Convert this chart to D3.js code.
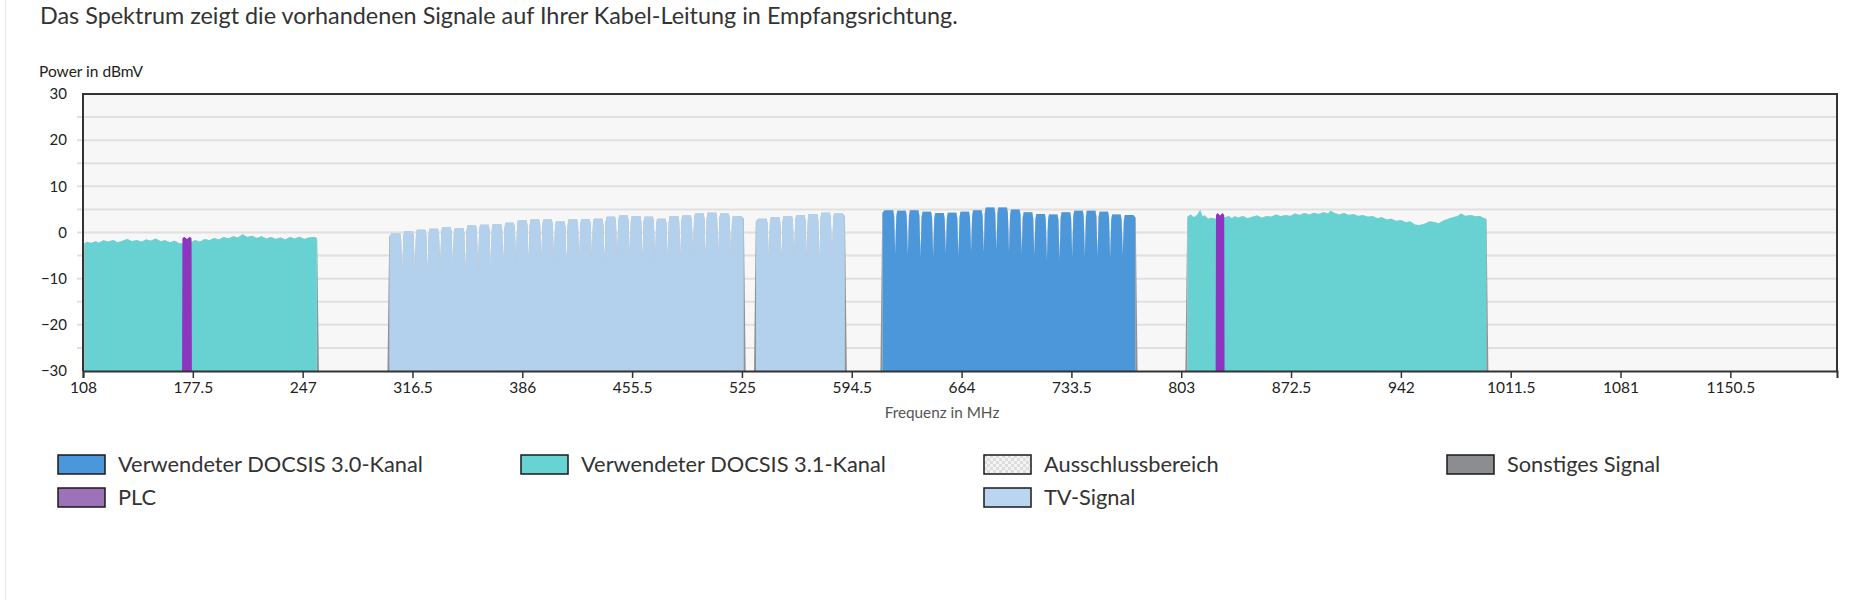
<!doctype html>
<html lang="de">
<head>
  <meta charset="utf-8">
  <title>Spektrum Empfangsrichtung</title>
  <script src="https://d3js.org/d3.v7.min.js"></script>
  <style>
    body { margin: 0; background: #fff; }
    text { font-family: Lato, "Open Sans", sans-serif; }
  </style>
</head>
<body>
  <div id="my_chart"></div>
<script>
  // axis ticks
  var x_ticks = [108, 177.5, 247, 316.5, 386, 455.5, 525, 594.5, 664, 733.5, 803, 872.5, 942, 1011.5, 1081, 1150.5];
  var y_ticks = [30, 20, 10, 0, -10, -20, -30];

  // TV signal channels (8 MHz): start frequency, top level, notch level to next channel
  var tv_start = [302, 310, 318, 326, 334, 342, 350, 358, 366, 374, 382, 390, 398, 406, 414, 422, 430, 438, 446, 454,
                  462, 470, 478, 486, 494, 502, 510, 518, 534, 542, 550, 558, 566, 574, 582];
  var tv_level = [-0.2, 0.3, 0.6, 0.8, 1.2, 1.0, 1.5, 1.7, 1.8, 2.1, 2.7, 2.8, 2.8, 2.4, 2.8, 2.9, 3.0, 3.4, 3.7, 3.6,
                  3.4, 3.0, 3.6, 3.7, 4.1, 4.3, 4.1, 3.6, 3.0, 3.3, 3.6, 3.8, 4.0, 4.3, 4.1];
  var tv_notch = [-10, -9.2, -8.8, -8.5, -8.2, -8.9, -9.2, -8.5, -7.5, -6.7, -6.7, -6.7, -7.0, -7.5, -7.0, -6.3, -6.7, -6.3, -6.0, -6.3,
                  -6.7, -6.3, -6.0, -5.0, -5.6, -6.0, -6.0, null, -6.7, -6.3, -6.3, -6.0, -6.7, -6.3, null];

  // DOCSIS 3.0 channels (8 MHz)
  var d30_start = [614, 622, 630, 638, 646, 654, 662, 670, 678, 686, 694, 702, 710, 718, 726, 734, 742, 750, 758, 766];
  var d30_level = [4.8, 4.7, 4.8, 4.5, 4.2, 4.3, 4.5, 4.8, 5.4, 5.4, 5.0, 4.4, 4.0, 3.9, 4.4, 4.7, 4.7, 4.5, 3.9, 3.8];
  var d30_notch = [-4.5, -4.9, -5.2, -5.2, -4.5, -5.2, -4.2, -4.2, -3.8, -4.2, -4.5, -4.9, -6.0, -6.0, -5.2, -5.2, -5.2, -5.6, -4.9, null];

  // DOCSIS 3.1 OFDM block 1 (108-256 MHz)
  var ofdm1_freq  = [109, 111, 113, 116, 118, 121, 124, 127, 130, 133, 136, 139, 142, 145, 148, 151, 154, 157, 160, 163,
                     166, 169, 171, 177, 179, 182, 185, 188, 191, 194, 197, 200, 203, 206, 209, 212, 215, 218, 221, 224,
                     227, 230, 233, 236, 239, 242, 245, 248, 251, 254, 256];
  var ofdm1_level = [-2.3, -2.0, -2.3, -1.9, -2.2, -1.7, -2.0, -1.6, -2.1, -1.8, -1.4, -1.9, -1.6, -2.0, -1.5, -1.8, -1.3, -1.9, -1.7, -2.1,
                     -1.8, -2.4, -2.3, -2.0, -1.6, -2.0, -1.4, -1.7, -1.2, -1.5, -1.0, -1.3, -0.8, -1.1, -0.4, -1.0, -0.7, -1.2, -0.8, -1.3,
                     -1.0, -1.4, -1.1, -1.5, -1.0, -1.3, -0.9, -1.4, -1.1, -1.0, -1.2];

  // DOCSIS 3.1 OFDM block 2 (807-996 MHz)
  var ofdm2_freq  = [807, 809, 811, 813, 815, 816.5, 818, 820, 822, 824.5, 831, 833, 835, 837, 839, 842, 845, 848, 851, 854,
                     857, 860, 863, 866, 869, 872, 875, 878, 881, 884, 887, 890, 893, 896, 897.5, 900, 903, 906, 909, 912,
                     915, 918, 921, 924, 927, 930, 933, 936, 939, 942, 945, 948, 951, 954, 957, 960, 963, 966, 969, 972,
                     975, 978, 980, 983, 986, 989, 992, 994, 996];
  var ofdm2_level = [3.4, 3.9, 3.3, 3.8, 4.9, 3.5, 3.7, 3.0, 3.2, 3.0, 3.3, 3.6, 3.1, 3.5, 3.2, 3.6, 3.1, 3.4, 3.7, 3.2,
                     3.6, 3.4, 3.9, 3.5, 3.8, 3.6, 4.1, 3.8, 4.2, 3.9, 4.3, 4.0, 4.4, 4.1, 4.7, 4.2, 3.9, 4.2, 3.8, 4.0,
                     3.6, 3.8, 3.4, 3.6, 3.1, 3.3, 2.8, 3.0, 2.5, 2.7, 2.2, 2.4, 1.7, 1.6, 1.9, 2.4, 2.3, 2.0, 2.6, 3.0,
                     3.3, 3.6, 4.1, 3.6, 3.8, 3.5, 3.6, 3.2, 3.0];

  // PLC carriers
  var plc_start = [170.6, 824.7];
  var plc_end   = [177.0, 830.5];
  var plc_level = [-0.9, 4.2];

  // legend
  var legend_labels = ['Verwendeter DOCSIS 3.0-Kanal', 'Verwendeter DOCSIS 3.1-Kanal', 'Ausschlussbereich', 'Sonstiges Signal', 'PLC', 'TV-Signal'];
  var legend_cols = [0, 1, 2, 3, 0, 2];
  var legend_rows = [0, 0, 0, 0, 1, 1];
  var legend_fill = ['#4a97db', '#68d3d3', 'url(#checker)', '#8b8d90', '#9d72b8', '#b9d5f0'];

  var width = 1872;
  var height = 600;
  var plot = {left: 83, right: 1837, top: 94, bottom: 371};

  var x = d3.scaleLinear().domain([108, 1218]).range([plot.left, plot.right]);
  var y = d3.scaleLinear().domain([-30, 30]).range([plot.bottom, plot.top]);

  var svg = d3.select('#my_chart').append('svg')
    .attr('width', width)
    .attr('height', height);

  var defs = svg.append('defs');
  defs.append('clipPath').attr('id', 'plot_clip')
    .append('rect')
      .attr('x', plot.left).attr('y', plot.top)
      .attr('width', plot.right - plot.left).attr('height', plot.bottom - plot.top);
  var checker = defs.append('pattern').attr('id', 'checker')
    .attr('width', 6).attr('height', 6).attr('patternUnits', 'userSpaceOnUse');
  checker.append('rect').attr('width', 6).attr('height', 6).attr('fill', '#f4f4f4');
  checker.append('rect').attr('width', 3).attr('height', 3).attr('fill', '#dcdcdc');
  checker.append('rect').attr('x', 3).attr('y', 3).attr('width', 3).attr('height', 3).attr('fill', '#dcdcdc');

  // page panel border
  svg.append('line')
    .attr('x1', 5.5).attr('x2', 5.5).attr('y1', 0).attr('y2', height)
    .attr('stroke', '#e6e6e6');

  svg.append('text')
    .attr('x', 40).attr('y', 23.5)
    .attr('fill', '#333')
    .style('font-size', '23.4px')
    .text('Das Spektrum zeigt die vorhandenen Signale auf Ihrer Kabel-Leitung in Empfangsrichtung.');

  svg.append('text')
    .attr('x', 39).attr('y', 77)
    .attr('fill', '#222')
    .style('font-size', '15.5px')
    .text('Power in dBmV');

  // plot background and grid
  svg.append('rect')
    .attr('x', plot.left).attr('y', plot.top)
    .attr('width', plot.right - plot.left).attr('height', plot.bottom - plot.top)
    .attr('fill', '#f7f7f7');

  svg.append('g').selectAll('line')
    .data(y.ticks(12).filter(d => d > -30 && d < 30))
    .enter().append('line')
      .attr('x1', plot.left - 6).attr('x2', plot.right)
      .attr('y1', d => y(d)).attr('y2', d => y(d))
      .attr('stroke', '#e0e0e0')
      .attr('stroke-width', 2);

  // spectrum
  var area = d3.area()
    .x(d => x(d[0]))
    .y0(y(-45))
    .y1(d => y(d[1]));

  function channel_points(starts, levels, notches) {
    var pts = [];
    starts.forEach(function(s, i) {
      var e = s + 8;
      var L = levels[i];
      var joined_left = i > 0 && notches[i - 1] != null;
      if (joined_left) {
        pts.push([s, notches[i - 1]]);
        pts.push([s + 0.7, L - 1.2]);
      } else {
        pts.push([s - 1.8, -42]);
        pts.push([s - 0.2, L - 0.6]);
      }
      pts.push([s + 1.3, L]);
      pts.push([e - 1.3, L]);
      if (notches[i] != null) {
        pts.push([e - 0.7, L - 1.2]);
      } else {
        pts.push([e + 0.2, L - 0.6]);
        pts.push([e + 1.8, -42]);
      }
    });
    return pts;
  }

  function block_points(freqs, levels) {
    var pts = freqs.map((f, i) => [f, levels[i]]);
    var n = freqs.length - 1;
    pts.unshift([freqs[0] - 0.2, levels[0] - 0.5]);
    pts.unshift([freqs[0] - 1.8, -42]);
    pts.push([freqs[n] + 0.2, levels[n] - 0.5]);
    pts.push([freqs[n] + 1.8, -42]);
    return pts;
  }

  // frequency ranges that carry a colour, everything else is "Sonstiges Signal"
  var spectrum = [
    {pts: block_points(ofdm1_freq, ofdm1_level), from: ofdm1_freq[0], to: ofdm1_freq[ofdm1_freq.length - 1], fill: '#68d2d2', opacity: 1},
    {pts: channel_points(tv_start.slice(0, 28), tv_level.slice(0, 28), tv_notch.slice(0, 28)), from: 302, to: 526, fill: 'rgb(111,171,225)', opacity: 0.5},
    {pts: channel_points(tv_start.slice(28), tv_level.slice(28), tv_notch.slice(28)), from: 534, to: 590, fill: 'rgb(111,171,225)', opacity: 0.5},
    {pts: channel_points(d30_start, d30_level, d30_notch), from: 614, to: 774, fill: 'rgb(56,140,214)', opacity: 0.9},
    {pts: block_points(ofdm2_freq, ofdm2_level), from: ofdm2_freq[0], to: ofdm2_freq[ofdm2_freq.length - 1], fill: '#68d2d2', opacity: 1}
  ];

  var spec_g = svg.append('g').attr('clip-path', 'url(#plot_clip)');

  spectrum.forEach(function(b, i) {
    spec_g.append('path')
      .attr('d', area(b.pts))
      .attr('fill', '#909296');
    defs.append('clipPath').attr('id', 'band_' + i)
      .append('rect')
        .attr('x', x(b.from)).attr('y', 0)
        .attr('width', x(b.to) - x(b.from)).attr('height', height);
    spec_g.append('g').attr('clip-path', 'url(#band_' + i + ')')
      .append('path')
        .attr('d', area(b.pts))
        .attr('fill', '#f7f7f7');
    spec_g.append('g').attr('clip-path', 'url(#band_' + i + ')')
      .append('path')
        .attr('d', area(b.pts))
        .attr('fill', b.fill)
        .attr('fill-opacity', b.opacity);
  });

  // PLC carriers
  spec_g.selectAll('.plc')
    .data(plc_start)
    .enter().append('path')
      .attr('class', 'plc')
      .attr('fill', '#8e35bf')
      .attr('d', (s, i) => area([
        [s, -42], [s + 0.3, plc_level[i] - 0.4], [s + 1.4, plc_level[i]],
        [(s + plc_end[i]) / 2, plc_level[i] - 0.5],
        [plc_end[i] - 1.4, plc_level[i]], [plc_end[i] - 0.3, plc_level[i] - 0.4], [plc_end[i], -42]
      ]));

  // frame
  svg.append('path')
    .attr('d', 'M' + plot.left + ',' + plot.bottom + 'V' + plot.top + 'H' + plot.right + 'V' + plot.bottom)
    .attr('fill', 'none')
    .attr('stroke', '#333')
    .attr('stroke-width', 2);

  // axes
  var x_axis = svg.append('g')
    .attr('transform', 'translate(0,' + plot.bottom + ')')
    .call(d3.axisBottom(x).tickValues(x_ticks).tickFormat(d => String(d)).tickSize(7).tickPadding(4));
  x_axis.select('.domain').attr('stroke', '#333').attr('stroke-width', 2);
  x_axis.selectAll('.tick line').attr('stroke', '#333').attr('stroke-width', 1.5);
  x_axis.selectAll('text').attr('fill', '#222').style('font-size', '15.5px').style('font-family', 'Lato, sans-serif');

  var y_axis = svg.append('g')
    .attr('transform', 'translate(' + plot.left + ',0)')
    .call(d3.axisLeft(y).tickValues(y_ticks).tickSize(0).tickPadding(16));
  y_axis.select('.domain').remove();
  y_axis.selectAll('text').attr('fill', '#222').style('font-size', '15px').style('font-family', 'Lato, sans-serif');

  svg.append('text')
    .attr('x', 942).attr('y', 418)
    .attr('text-anchor', 'middle')
    .attr('fill', '#555')
    .style('font-size', '15.3px')
    .text('Frequenz in MHz');

  // legend
  var legend = svg.append('g').selectAll('g')
    .data(legend_labels)
    .enter().append('g')
      .attr('transform', (d, i) => 'translate(' + (58 + legend_cols[i] * 463) + ',' + (455 + legend_rows[i] * 33) + ')');
  legend.append('rect')
    .attr('width', 47).attr('height', 19)
    .attr('fill', (d, i) => legend_fill[i])
    .attr('stroke', '#1a1a1a')
    .attr('stroke-width', 1.5);
  legend.append('text')
    .attr('x', 60).attr('y', 17)
    .attr('fill', '#333')
    .style('font-size', '21.8px')
    .text(d => d);
</script>
</body>
</html>
